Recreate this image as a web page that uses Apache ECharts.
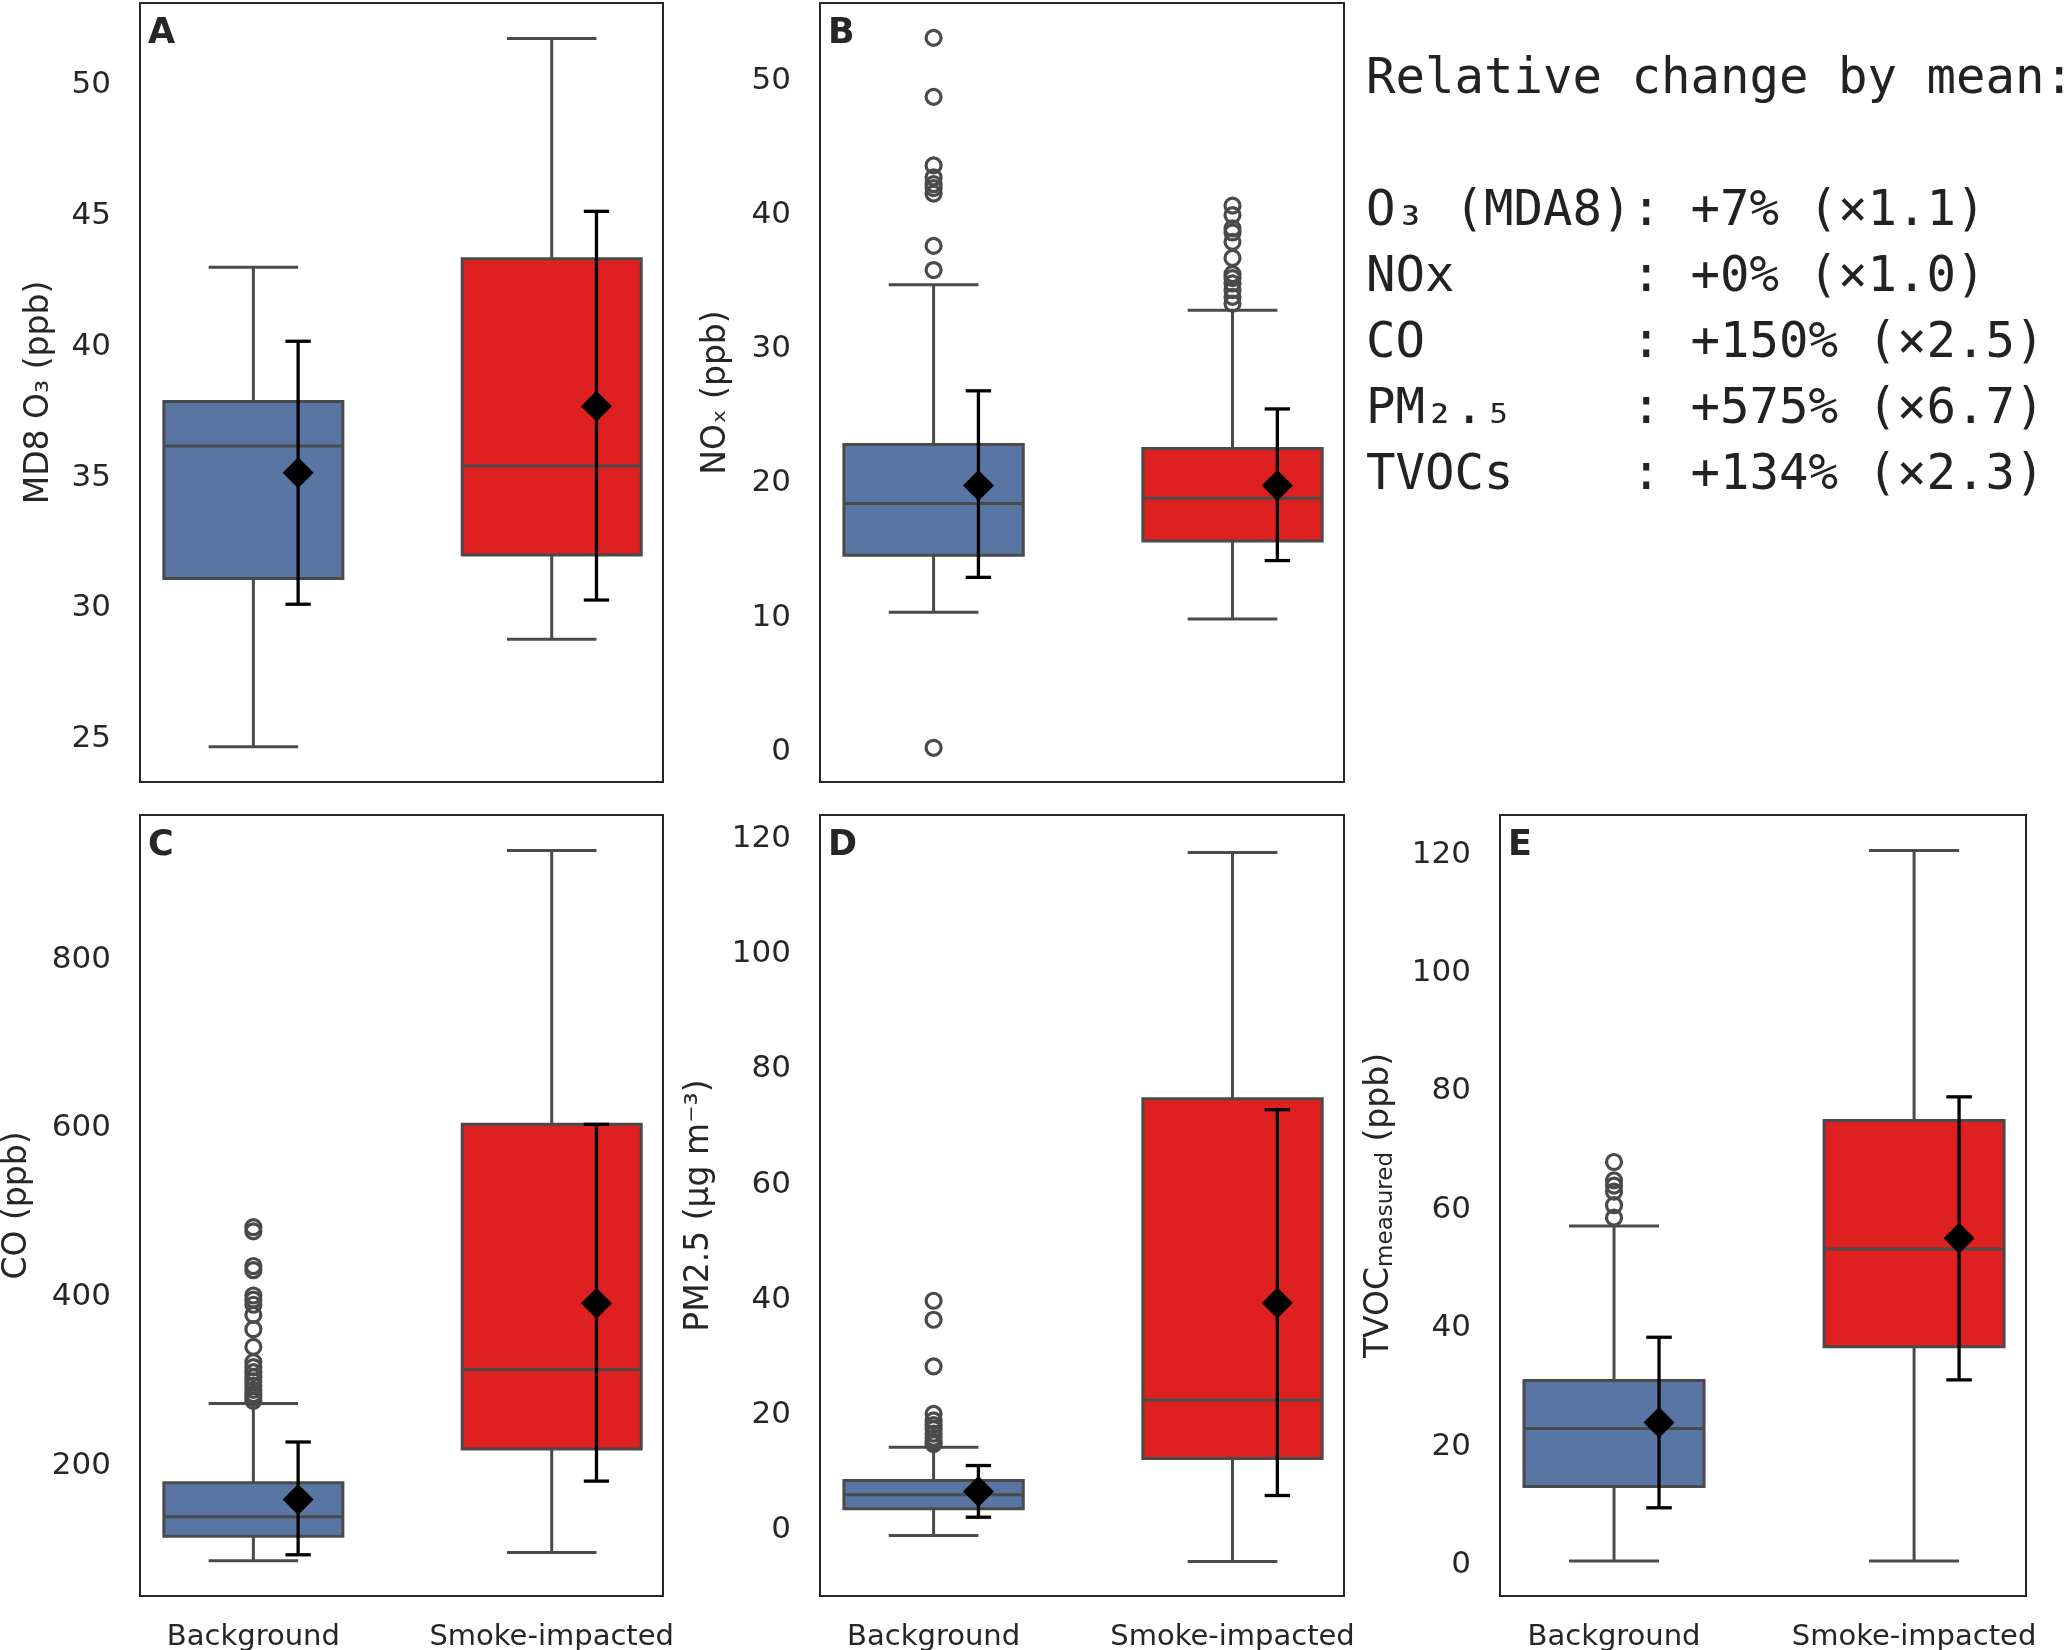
<!DOCTYPE html>
<html>
<head>
<meta charset="utf-8">
<title>Background vs smoke-impacted</title>
<script src="https://cdn.jsdelivr.net/npm/echarts@6.0.0/dist/echarts.min.js"></script>
<style>
  html, body { margin: 0; padding: 0; background: #fff; }
  #main { width: 2067px; height: 1650px; }
</style>
</head>
<body>
<div id="main"></div>
<script>
// categories on the x axis
var categories = ['Background', 'Smoke-impacted'];

// box stats per group: [lower whisker, Q1, median, Q3, upper whisker]
// A - MD8 O3
var o3Box = [[24.55, 30.98, 36.05, 37.76, 42.89], [28.66, 31.88, 35.29, 43.22, 51.64]];
var o3Out = [[], []];
var o3Mean = [35.03, 37.57];
var o3Err = [[30.0, 40.06], [30.16, 45.03]];
var o3Ticks = [25, 30, 35, 40, 45, 50];

// B - NOx
var noxBox = [[10.1, 14.35, 18.2, 22.6, 34.5], [9.6, 15.4, 18.6, 22.3, 32.6]];
var noxOut = [
    [0.0, 35.6, 37.4, 41.3, 41.7, 42.0, 42.5, 43.4, 48.5, 52.9],
    [33.1, 33.6, 34.1, 34.6, 35.0, 35.3, 36.5, 37.7, 38.4, 38.7, 39.7, 40.4]
];
var noxMean = [19.55, 19.55];
var noxErr = [[12.7, 26.6], [13.95, 25.25]];
var noxTicks = [0, 10, 20, 30, 40, 50];

// C - CO
var coBox = [[82.3, 111.3, 134.4, 174.9, 268.8], [92, 214.8, 309.3, 600, 924.8]];
var coOut = [
    [272, 276, 280, 285, 290, 295, 300, 306, 312, 318, 336, 357, 374, 386, 392, 397, 427, 432, 473, 478],
    []
];
var coMean = [155, 387.8];
var coErr = [[89.4, 223.2], [176.8, 600]];
var coTicks = [200, 400, 600, 800];

// D - PM2.5
var pmBox = [[-1.68, 2.95, 5.38, 7.87, 13.65], [-6.2, 11.7, 21.8, 74.2, 117.0]];
var pmOut = [[14.2, 14.6, 15.3, 16.0, 16.8, 17.5, 18.3, 19.45, 27.7, 35.8, 39.1], []];
var pmMean = [5.96, 38.7];
var pmErr = [[1.49, 10.47], [5.26, 72.3]];
var pmTicks = [0, 20, 40, 60, 80, 100, 120];

// E - TVOC
var tvocBox = [[0, 12.6, 22.4, 30.5, 56.6], [0, 36.2, 52.7, 74.4, 120]];
var tvocOut = [[58.0, 60.1, 62.4, 63.4, 64.3, 67.4], []];
var tvocMean = [23.4, 54.5];
var tvocErr = [[9.0, 37.8], [30.6, 78.4]];
var tvocTicks = [0, 20, 40, 60, 80, 100, 120];

// text block on the right
var summaryTitle = 'Relative change by mean:';
var summaryLines = [
    'O₃ (MDA8): +7% (×1.1)',
    'NOx      : +0% (×1.0)',
    'CO       : +150% (×2.5)',
    'PM₂.₅    : +575% (×6.7)',
    'TVOCs    : +134% (×2.3)'
];

(function () {
    var myChart = echarts.init(document.getElementById('main'), null, { renderer: 'canvas' });

    var BLUE = '#5975a4';
    var RED = '#df2020';
    var EDGE = '#4a4a4a';
    var INK = '#262626';
    var BOX_W = 0.6;
    var MEAN_SHIFT = 0.15;
    var ERR_CAP = 0.085;
    var boxColors = [BLUE, RED];

    // layout of the five panels (px)
    var panels = [
        { letter: 'A', left: 140, top: 3, width: 523, height: 779, box: o3Box, out: o3Out, mean: o3Mean, err: o3Err, ticks: o3Ticks, min: 23.2, max: 53.0, name: 'MD8 O₃ (ppb)', gap: 84, xlabels: false },
        { letter: 'B', left: 820, top: 3, width: 524, height: 779, box: noxBox, out: noxOut, mean: noxMean, err: noxErr, ticks: noxTicks, min: -2.55, max: 55.5, name: 'NOₓ (ppb)', gap: 87, xlabels: false },
        { letter: 'C', left: 140, top: 815, width: 523, height: 781, box: coBox, out: coOut, mean: coMean, err: coErr, ticks: coTicks, min: 40.5, max: 967, name: 'CO (ppb)', gap: 106, xlabels: true },
        { letter: 'D', left: 820, top: 815, width: 524, height: 781, box: pmBox, out: pmOut, mean: pmMean, err: pmErr, ticks: pmTicks, min: -12.2, max: 123.5, name: 'PM2.5 (μg m⁻³)', gap: 104, xlabels: true },
        { letter: 'E', left: 1500, top: 815, width: 526, height: 781, box: tvocBox, out: tvocOut, mean: tvocMean, err: tvocErr, ticks: tvocTicks, min: -5.9, max: 126, name: '{a|TVOC}{b|measured}{a| (ppb)}', gap: 102, xlabels: true }
    ];

    function renderBox(params, api) {
        var x = api.value(0);
        var lo = api.coord([x, api.value(1)]);
        var q1 = api.coord([x, api.value(2)]);
        var md = api.coord([x, api.value(3)]);
        var q3 = api.coord([x, api.value(4)]);
        var hi = api.coord([x, api.value(5)]);
        var half = api.size([BOX_W, 0])[0] / 2;
        var cap = half / 2;
        var ls = { stroke: EDGE, lineWidth: 3 };
        return {
            type: 'group',
            children: [
                { type: 'line', shape: { x1: lo[0], y1: lo[1], x2: q1[0], y2: q1[1] }, style: ls },
                { type: 'line', shape: { x1: q3[0], y1: q3[1], x2: hi[0], y2: hi[1] }, style: ls },
                { type: 'line', shape: { x1: lo[0] - cap, y1: lo[1], x2: lo[0] + cap, y2: lo[1] }, style: ls },
                { type: 'line', shape: { x1: hi[0] - cap, y1: hi[1], x2: hi[0] + cap, y2: hi[1] }, style: ls },
                { type: 'rect', shape: { x: q3[0] - half, y: q3[1], width: half * 2, height: q1[1] - q3[1] },
                  style: { fill: boxColors[params.dataIndex], stroke: EDGE, lineWidth: 3 } },
                { type: 'line', shape: { x1: md[0] - half, y1: md[1], x2: md[0] + half, y2: md[1] }, style: ls }
            ]
        };
    }

    function renderErr(params, api) {
        var x = api.value(0);
        var lo = api.coord([x, api.value(1)]);
        var hi = api.coord([x, api.value(2)]);
        var cap = api.size([ERR_CAP, 0])[0] / 2;
        var ls = { stroke: '#000', lineWidth: 3.3 };
        return {
            type: 'group',
            children: [
                { type: 'line', shape: { x1: lo[0], y1: lo[1], x2: hi[0], y2: hi[1] }, style: ls },
                { type: 'line', shape: { x1: lo[0] - cap, y1: lo[1], x2: lo[0] + cap, y2: lo[1] }, style: ls },
                { type: 'line', shape: { x1: hi[0] - cap, y1: hi[1], x2: hi[0] + cap, y2: hi[1] }, style: ls }
            ]
        };
    }

    var grid = [], xAxis = [], yAxis = [], series = [], graphic = [];

    panels.forEach(function (p, i) {
        grid.push({
            left: p.left, top: p.top, width: p.width, height: p.height,
            show: true, borderColor: INK, borderWidth: 2, backgroundColor: 'transparent',
            outerBoundsMode: 'none'
        });
        xAxis.push({
            type: 'value', gridIndex: i, min: -0.38, max: 1.373,
            axisLine: { show: false }, axisTick: { show: false }, splitLine: { show: false },
            axisLabel: {
                show: p.xlabels, customValues: [0, 1], margin: 27,
                color: INK, fontSize: 29, fontFamily: 'DejaVu Sans',
                formatter: function (v) { return categories[Math.round(v)]; }
            }
        });
        yAxis.push({
            type: 'value', gridIndex: i, min: p.min, max: p.max,
            axisLine: { show: false }, axisTick: { show: false }, splitLine: { show: false },
            axisLabel: {
                customValues: p.ticks, margin: 29,
                color: INK, fontSize: 31, fontFamily: 'DejaVu Sans',
                formatter: function (v) { return '{t|' + v + '}'; },
                rich: {
                    t: { fontSize: 31, fontFamily: 'DejaVu Sans', color: INK, padding: [8, 0, 0, 0] }
                }
            },
            name: p.name, nameLocation: 'middle', nameGap: p.gap,
            nameTextStyle: {
                color: INK, fontSize: 33, fontFamily: 'DejaVu Sans',
                rich: {
                    a: { fontSize: 33, fontFamily: 'DejaVu Sans', color: INK },
                    b: { fontSize: 23, fontFamily: 'DejaVu Sans', color: INK, padding: [15, 0, 0, 0] }
                }
            }
        });

        // box + whiskers
        series.push({
            type: 'custom', xAxisIndex: i, yAxisIndex: i,
            renderItem: renderBox,
            encode: { x: 0, y: [1, 2, 3, 4, 5] },
            data: p.box.map(function (b, k) { return [k].concat(b); }),
            z: 2
        });

        // outliers
        var outData = [];
        p.out.forEach(function (arr, k) {
            arr.forEach(function (v) { outData.push([k, v]); });
        });
        series.push({
            type: 'scatter', xAxisIndex: i, yAxisIndex: i,
            symbol: 'circle', symbolSize: 15,
            itemStyle: { color: 'rgba(0,0,0,0)', borderColor: EDGE, borderWidth: 3.2, opacity: 1 },
            data: outData,
            z: 3
        });

        // mean +- error bar
        series.push({
            type: 'custom', xAxisIndex: i, yAxisIndex: i,
            renderItem: renderErr,
            encode: { x: 0, y: [1, 2] },
            data: p.err.map(function (e, k) { return [k + MEAN_SHIFT, e[0], e[1]]; }),
            z: 4
        });
        series.push({
            type: 'scatter', xAxisIndex: i, yAxisIndex: i,
            symbol: 'diamond', symbolSize: [31, 31],
            itemStyle: { color: '#000', opacity: 1 },
            data: p.mean.map(function (m, k) { return [k + MEAN_SHIFT, m]; }),
            z: 5
        });

        // panel letter
        graphic.push({
            type: 'text', x: p.left + 8, y: p.top + 31,
            style: { text: p.letter, fontSize: 35, fontWeight: 'bold', fontFamily: 'DejaVu Sans', fill: INK, verticalAlign: 'middle' },
            z: 10
        });
    });

    // summary text block
    graphic.push({
        type: 'text', x: 1366, y: 80,
        style: { text: summaryTitle, fontSize: 49, fontFamily: 'DejaVu Sans Mono', fill: '#222', verticalAlign: 'middle' }
    });
    summaryLines.forEach(function (t, k) {
        graphic.push({
            type: 'text', x: 1366, y: 212 + k * 66,
            style: { text: t, fontSize: 49, fontFamily: 'DejaVu Sans Mono', fill: '#222', verticalAlign: 'middle' }
        });
    });

    var option = {
        animation: false,
        backgroundColor: '#fff',
        grid: grid,
        xAxis: xAxis,
        yAxis: yAxis,
        series: series,
        graphic: graphic
    };

    myChart.setOption(option);
    window.addEventListener('resize', function () {
        myChart.resize();
    });
})();
</script>
</body>
</html>
